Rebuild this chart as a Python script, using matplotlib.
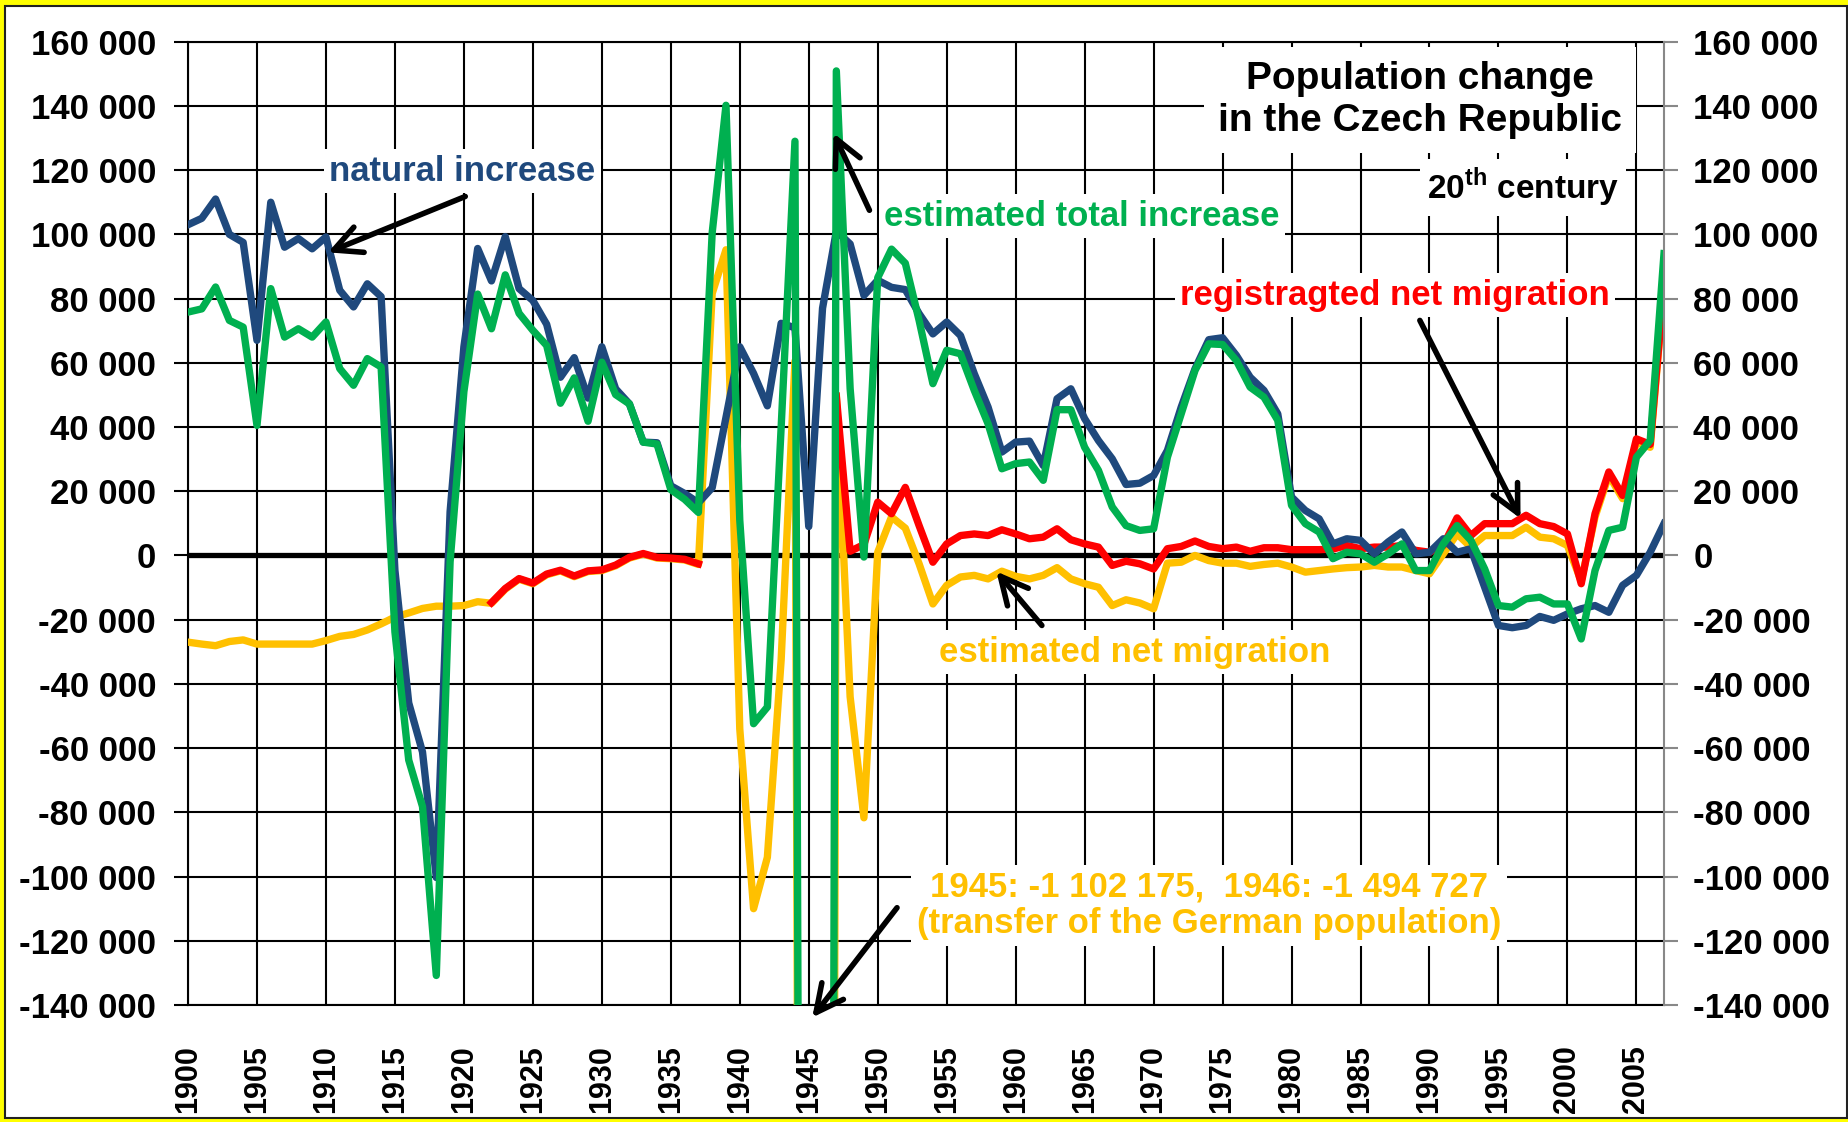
import numpy as np
import matplotlib
matplotlib.use("Agg")
import matplotlib.pyplot as plt
from matplotlib.patches import Rectangle

plt.rcParams['font.family'] = ['Liberation Sans', 'DejaVu Sans']
plt.rcParams['mathtext.fontset'] = 'custom'
plt.rcParams['mathtext.bf'] = 'Liberation Sans:bold'
plt.rcParams['mathtext.rm'] = 'Liberation Sans'

# Years 1900 - 2007
years = list(range(1900, 2008))

# natural increase
natural = [103000, 105000, 111000, 100000, 97500, 67000, 110000, 96000, 98700, 95500,
           99200, 82600, 77400, 84600, 80600, -4600, -45900, -61200, -100300, 13600,
           65000, 95600, 85500, 99300, 83100, 79400, 72000, 55500, 61600, 49000,
           65000, 51900, 47200, 35300, 35100, 21700, 19300, 16400, 21100, 43000,
           65000, 56700, 46600, 72300, 70900, 9000, 77000, 101000, 97000, 81000,
           85700, 83500, 82800, 75300, 69000, 72700, 68500, 56600, 46200, 32200,
           35300, 35600, 28000, 48800, 51900, 42600, 35800, 30100, 22100, 22500,
           24900, 32700, 46200, 58100, 67200, 67800, 62300, 55500, 51400, 44100,
           18200, 14000, 11400, 3600, 5200, 4700, 500, 4200, 7300, 500,
           1000, 5200, 1000, 2100, -9900, -21800, -22500, -21800, -19000, -20200,
           -18200, -16600, -15600, -17700, -9300, -6200, 1000, 9900]

# estimated total increase
total = [75800, 76800, 83600, 73200, 71100, 40500, 83100, 68000, 70600, 68000,
         72700, 58200, 53000, 61300, 58700, -23800, -63700, -78200, -130800, -2000,
         51000, 81400, 70600, 87400, 75400, 70100, 65400, 47400, 55300, 41800,
         60200, 50100, 47200, 35300, 34700, 20500, 17500, 13400, 100500, 140200,
         11000, -52400, -47200, 40000, 129000, -1093175, -1417727, 150900, 52000, -500,
         86500, 95400, 91000, 73200, 53500, 63900, 62800, 51400, 41000, 27000,
         28600, 29100, 23400, 45400, 45400, 33700, 26500, 15100, 9300, 7800,
         8300, 30600, 44100, 57600, 65900, 65700, 60700, 52400, 49300, 42100,
         15600, 9900, 7300, -1000, 1000, 500, -2100, 500, 3600, -4700,
         -4700, 3600, 9300, 4700, -4200, -15600, -16100, -13500, -13000, -15100,
         -15100, -26000, -4700, 7800, 8800, 30600, 35800, 94000]

# estimated net migration
est_migration = [-27000, -27600, -28100, -26800, -26300, -27600, -27600, -27600, -27600, -27600,
                 -26500, -25200, -24600, -23200, -21300, -19200, -17900, -16500, -15800, -15800,
                 -15600, -14400, -14900, -10500, -7400, -8800, -6000, -4800, -6600, -5000,
                 -4700, -3200, -800, 400, -800, -1000, -1400, -2800, 81600, 95200,
                 -54000, -110000, -94000, -32500, 60500, -1102175, -1494727, 50000, -44000, -81700,
                 1000, 12000, 8500, -2600, -15100, -9300, -6700, -6200, -7300, -4900,
                 -6500, -7300, -6200, -3800, -7300, -8800, -9900, -15600, -13800, -14800,
                 -16600, -2400, -2100, 0, -1600, -2400, -2400, -3400, -2800, -2400,
                 -3600, -5200, -4700, -4200, -3800, -3600, -3100, -3600, -3600, -4700,
                 -5700, 500, 6700, 2600, 6200, 6200, 6200, 8800, 5700, 5200,
                 3100, -8000, 12000, 25000, 17700, 35300, 33700, 83600]

# registered net migration (no data 1900-1921 and 1938-1946)
N = None
reg_migration = [N, N, N, N, N, N, N, N, N, N,
                 N, N, N, N, N, N, N, N, N, N,
                 N, N, -14700, -10300, -7200, -8600, -5800, -4600, -6400, -4800,
                 -4500, -3000, -600, 600, -600, -800, -1200, -2600, N, N,
                 N, N, N, N, N, N, N, 49600, 1300, 3400,
                 16600, 13000, 21200, 9300, -2100, 3600, 6200, 6700, 6200, 8000,
                 6700, 5200, 5700, 8300, 4900, 3600, 2600, -3100, -1800, -2600,
                 -4200, 2100, 2800, 4500, 2800, 2100, 2600, 1300, 2400, 2400,
                 1800, 1800, 1800, 2000, 3100, 2100, 2600, 2600, 3100, 1600,
                 1000, 3100, 11700, 6200, 9900, 9900, 9900, 12500, 9900, 9000,
                 6700, -8800, 13000, 26000, 18700, 36300, 34600, 84100]
reg_migration = np.array([np.nan if v is None else v for v in reg_migration], dtype=float)

c_blue = '#1F497D'
c_green = '#00B050'
c_red = '#FF0000'
c_yellow = '#FFC000'

W, H = 1849, 1122
fig = plt.figure(figsize=(W / 100, H / 100), dpi=100)
fig.patch.set_facecolor('white')

# yellow frame round the chart
frame_kw = dict(transform=fig.transFigure, facecolor='#FFFF00', edgecolor='none', zorder=100)
fig.add_artist(Rectangle((0, 0), 5 / W, 1, **frame_kw))
fig.add_artist(Rectangle((1847 / W, 0), 2 / W, 1, **frame_kw))
fig.add_artist(Rectangle((0, 0), 1, 4 / H, **frame_kw))
fig.add_artist(Rectangle((0, 1116 / H), 1, 6 / H, **frame_kw))
fig.add_artist(Rectangle((5 / W, 4 / H), 1842 / W, 1112 / H, transform=fig.transFigure,
                         facecolor='none', edgecolor='#222222', lw=1.5, zorder=101))

ax = fig.add_axes([188 / W, 1 - 1005 / H, (1664 - 188) / W, (1005 - 41.7) / H])
ax.set_facecolor('white')

ax.set_xlim(1900, 2007)
ax.set_ylim(-140000, 160000)
yt = list(range(-140000, 160001, 20000))


def fmt(v):
    s = f"{abs(v):,}".replace(",", " ")
    return ('-' if v < 0 else '') + s


ax.set_yticks(yt)
ax.set_yticklabels([fmt(v) for v in yt], fontsize=25, fontweight='bold')
xt = list(range(1900, 2006, 5))
ax.set_xticks(xt)
ax.set_xticklabels([str(v) for v in xt], rotation=90, fontsize=22, fontweight='bold')
ax.tick_params(axis='y', length=10, width=1.5, pad=13)
ax.tick_params(axis='x', length=0, pad=29)
ax.grid(True, color='black', lw=1.5, zorder=1)
ax.set_axisbelow(True)
for s in ['left', 'top', 'bottom']:
    ax.spines[s].set_linewidth(1.5)
ax.spines['right'].set_visible(False)

ax.axhline(0, color='black', lw=3.8, zorder=2)

lw = 5.3
ax.plot(years, est_migration, color=c_yellow, lw=lw, zorder=3, solid_joinstyle='round')
ax.plot(years, reg_migration, color=c_red, lw=lw, zorder=4, solid_joinstyle='round')
ax.plot(years, natural, color=c_blue, lw=lw, zorder=5, solid_joinstyle='round')
ax.plot(years, total, color=c_green, lw=lw, zorder=6, solid_joinstyle='round')

# right axis
ax2 = ax.twinx()
ax2.set_ylim(-140000, 160000)
ax2.set_yticks(yt)
ax2.set_yticklabels([fmt(v) for v in yt], fontsize=25, fontweight='bold')
ax2.tick_params(axis='y', length=10, width=1.5, color='#888888', pad=11)
for s in ['left', 'top', 'bottom']:
    ax2.spines[s].set_visible(False)
ax2.spines['right'].set_color('#888888')
ax2.spines['right'].set_linewidth(1.5)

box = dict(facecolor='white', edgecolor='none', pad=4)
arrow = dict(arrowstyle='->, head_length=0.7, head_width=0.35', lw=4, color='black',
             mutation_scale=28, shrinkA=0, shrinkB=0)

# annotations
ax.text(1919.9, 119600, 'natural increase', color=c_blue, fontsize=25, fontweight='bold',
        ha='center', va='center', bbox=box, zorder=10)
ax.annotate('', xy=(1910.15, 94400), xytext=(1920.1, 111800), arrowprops=arrow, zorder=9)

ax.text(1964.8, 105600, 'estimated total increase', color=c_green, fontsize=25,
        fontweight='bold', ha='center', va='center', bbox=box, zorder=10)
ax.annotate('', xy=(1946.8, 131500), xytext=(1949.4, 107500), arrowprops=arrow, zorder=9)

ax.text(1987.5, 81000, 'registragted net migration', color=c_red, fontsize=25,
        fontweight='bold', ha='center', va='center', bbox=box, zorder=10)
ax.annotate('', xy=(1996.6, 11500), xytext=(1989.3, 73200), arrowprops=arrow, zorder=9)

ax.text(1968.6, -30200, 'estimated net migration', color=c_yellow, fontsize=25,
        fontweight='bold', ha='center', va='center', bbox=box, zorder=10)
ax.annotate('', xy=(1958.6, -5000), xytext=(1961.9, -21800), arrowprops=arrow, zorder=9)

ax.text(1974.0, -109000, '1945: -1 102 175,  1946: -1 494 727\n(transfer of the German population)',
        color=c_yellow, fontsize=25, fontweight='bold', ha='center', va='center',
        linespacing=1.15, bbox=box, zorder=10)
ax.annotate('', xy=(1945.25, -143900), xytext=(1951.4, -109700), arrowprops=arrow,
            zorder=9, annotation_clip=False)

ax.text(1989.3, 141800, 'Population change\nin the Czech Republic', color='black', fontsize=28,
        fontweight='bold', ha='center', va='center', linespacing=1.2,
        bbox=dict(facecolor='white', edgecolor='none', pad=10), zorder=10)
ax.text(1996.8, 114600, r'20$^{\mathbf{th}}$ century', color='black', fontsize=24,
        fontweight='bold', ha='center', va='center',
        bbox=dict(facecolor='white', edgecolor='none', pad=5), zorder=10)

fig.savefig('out.png', dpi=100, facecolor=fig.get_facecolor())
